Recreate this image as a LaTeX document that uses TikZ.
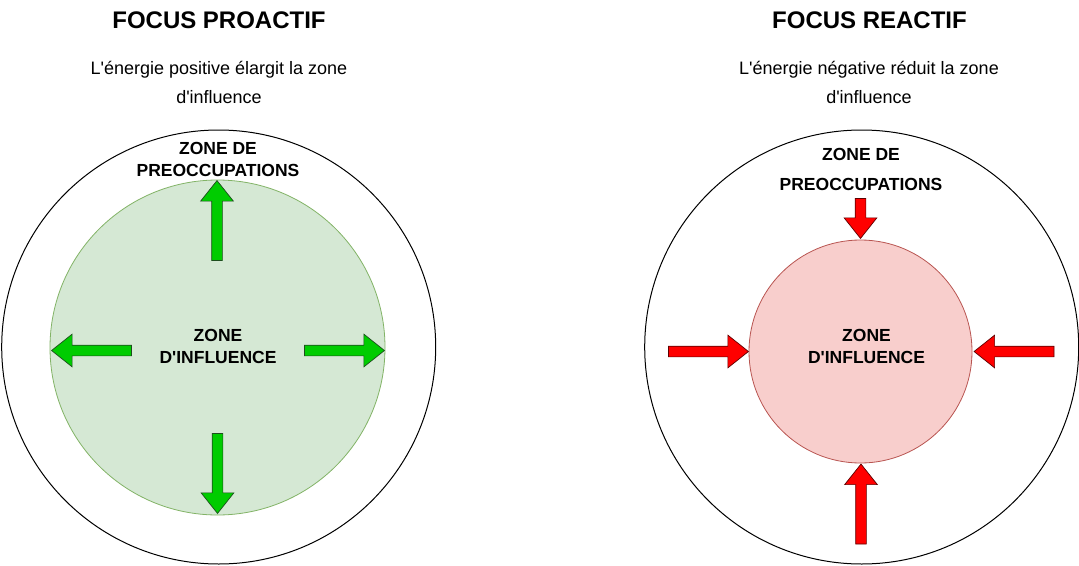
\documentclass[tikz,border=0pt]{standalone}
\usepackage{fontspec}
\setmainfont{Liberation Sans}
\usetikzlibrary{shapes.arrows, positioning}

\definecolor{inflgreen}{HTML}{D5E8D4}
\definecolor{inflgreenline}{HTML}{82B366}
\definecolor{inflred}{HTML}{F8CECC}
\definecolor{inflredline}{HTML}{B85450}
\definecolor{arrgreen}{HTML}{00CC00}
\definecolor{arrgreenline}{HTML}{1E4D1E}
\definecolor{arrred}{HTML}{FF0000}
\definecolor{arrredline}{HTML}{5C0000}

\begin{document}
\begin{tikzpicture}[
    x=1pt, y=-1pt,
    every node/.style = {font=\fontsize{18}{29}\selectfont, align=center},
    heading/.style = {font=\fontsize{24}{28}\selectfont\bfseries},
    zonelabel/.style = {font=\fontsize{17.5}{22}\selectfont\bfseries},
    concern/.style = {circle, draw=black, line width=1pt, inner sep=0pt,
        minimum size=434pt},
    influence/.style = {circle, line width=0.8pt, inner sep=0pt},
    blockarrow/.style = {
        single arrow,
        minimum height=#1,
        inner sep=5pt,
        single arrow head extend=11pt,
        single arrow tip angle=77,
        line width=0.7pt
    },
    growarrow/.style = {blockarrow=80pt, fill=arrgreen, draw=arrgreenline},
    shrinkarrow/.style = {blockarrow=#1, fill=arrred, draw=arrredline},
    shrinkarrow/.default = 80pt
]
\useasboundingbox (0,0) rectangle (1079,565);

%% Left side: proactive focus
\node[heading] (titleL) at (219,20) {FOCUS PROACTIF};
\node (subL) at (219,82) {L\textquotesingle énergie positive élargit la zone\\d\textquotesingle influence};

\node[concern] (outerL) at (218.7,347) {};
\node[influence, fill=inflgreen, draw=inflgreenline, minimum size=335pt]
    (innerL) at (217.5,347.5) {};

\node[zonelabel] (concernL) at (218,159) {ZONE DE\\PREOCCUPATIONS};
\node[zonelabel] (inflL) at (218,346.5) {ZONE\\D\textquotesingle INFLUENCE};

\node[growarrow, shape border rotate=90,  anchor=tip] (upL)    at (217,180)   {};
\node[growarrow, shape border rotate=270, anchor=tip] (downL)  at (217.5,514) {};
\node[growarrow, shape border rotate=180, anchor=tip] (leftL)  at (51,350.5)  {};
\node[growarrow, shape border rotate=0,   anchor=tip] (rightL) at (385,350.5) {};

%% Right side: reactive focus
\node[heading] (titleR) at (869.5,20) {FOCUS REACTIF};
\node (subR) at (869,82) {L\textquotesingle énergie négative réduit la zone\\d\textquotesingle influence};

\node[concern] (outerR) at (861.7,347) {};
\node[influence, fill=inflred, draw=inflredline, minimum size=223pt]
    (innerR) at (860.5,351.5) {};

\node[zonelabel, font=\fontsize{17.5}{30}\selectfont\bfseries]
    (concernR) at (861,169) {ZONE DE\\PREOCCUPATIONS};
\node[zonelabel] (inflR) at (866.5,346.5) {ZONE\\D\textquotesingle INFLUENCE};

\node[shrinkarrow=40pt, shape border rotate=270, anchor=tip] (downR)  at (860.5,239) {};
\node[shrinkarrow,      shape border rotate=90,  anchor=tip] (upR)    at (861,463.5) {};
\node[shrinkarrow,      shape border rotate=0,   anchor=tip] (rightR) at (749,351.5) {};
\node[shrinkarrow,      shape border rotate=180, anchor=tip] (leftR)  at (973.5,351.5) {};

\end{tikzpicture}
\end{document}
